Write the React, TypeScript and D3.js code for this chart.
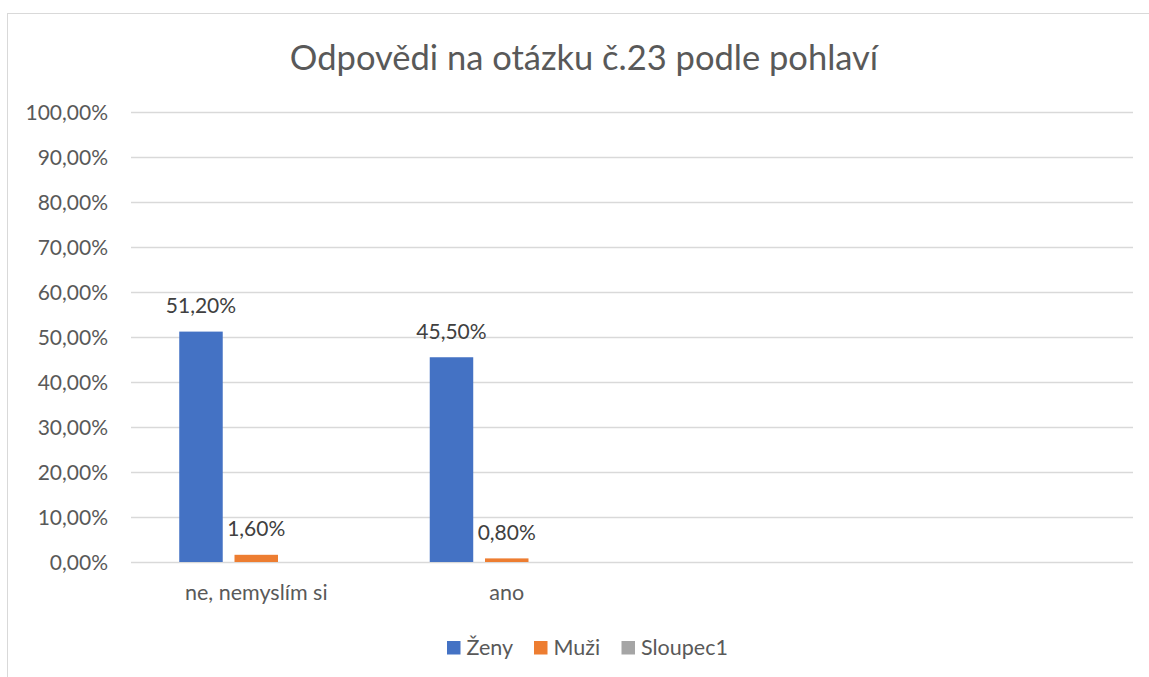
import React, { useEffect, useRef } from 'react';
import * as d3 from 'd3';

const title = 'Odpovědi na otázku č.23 podle pohlaví';
const categories = ['ne, nemyslím si', 'ano', '', ''];
const seriesNames = ['Ženy', 'Muži', 'Sloupec1'];
const zeny = [0.512, 0.455, null, null];
const muzi = [0.016, 0.008, null, null];
const sloupec1 = [null, null, null, null];
const yTicks = [0, 0.1, 0.2, 0.3, 0.4, 0.5, 0.6, 0.7, 0.8, 0.9, 1.0];
const colors = ['#4472C4', '#ED7D31', '#A5A5A5'];

const App = () => {
  const chartRef = useRef<SVGSVGElement | null>(null);

  useEffect(() => {
    if (!chartRef.current) return;
    const width = 1149;
    const height = 677;
    const font = 'Lato, "Open Sans", sans-serif';
    const textColor = '#595959';
    const gridColor = '#d9d9d9';

    const svg = d3.select(chartRef.current);
    svg.selectAll('*').remove();
    svg.attr('width', width).attr('height', height);

    // chart border (runs off the right / bottom of the picture)
    svg.append('rect')
      .attr('x', 7.5).attr('y', 13.5)
      .attr('width', 1200).attr('height', 700)
      .attr('fill', 'white')
      .attr('stroke', gridColor);

    const cz = d3.formatLocale({ decimal: ',', thousands: ' ', grouping: [3], currency: ['', ' Kč'] });
    const pct = cz.format('.2%');

    const x = d3.scaleBand<number>()
      .domain(d3.range(categories.length))
      .range([131, 1133]);

    const xs = d3.scaleBand<string>()
      .domain(seriesNames)
      .range([0, x.bandwidth()])
      .paddingInner(0.213)
      .paddingOuter(0.873);

    const y = d3.scaleLinear().domain([0, 1]).range([562, 112]);

    // gridlines
    svg.append('g')
      .selectAll('line')
      .data(yTicks)
      .enter()
      .append('line')
      .attr('x1', 131).attr('x2', 1133)
      .attr('y1', d => Math.round(y(d)) + 0.5)
      .attr('y2', d => Math.round(y(d)) + 0.5)
      .attr('stroke', gridColor)
      .attr('stroke-width', 1.3);

    // y tick labels
    svg.append('g')
      .selectAll('text')
      .data(yTicks)
      .enter()
      .append('text')
      .attr('x', 108)
      .attr('y', d => y(d) + 7.5)
      .attr('text-anchor', 'end')
      .attr('font-family', font)
      .attr('font-size', 21)
      .attr('fill', textColor)
      .text(d => pct(d));

    const series = [zeny, muzi, sloupec1];

    series.forEach((values, si) => {
      const g = svg.append('g');
      const pts = values
        .map((v, i) => ({ v, i }))
        .filter(d => d.v !== null) as { v: number; i: number }[];

      g.selectAll('rect')
        .data(pts)
        .enter()
        .append('rect')
        .attr('x', d => (x(d.i) as number) + (xs(seriesNames[si]) as number))
        .attr('y', d => y(d.v))
        .attr('width', xs.bandwidth())
        .attr('height', d => y(0) - y(d.v))
        .attr('fill', colors[si]);

      g.selectAll('text')
        .data(pts)
        .enter()
        .append('text')
        .attr('x', d => (x(d.i) as number) + (xs(seriesNames[si]) as number) + xs.bandwidth() / 2)
        .attr('y', d => y(d.v) - 18.5)
        .attr('text-anchor', 'middle')
        .attr('font-family', font)
        .attr('font-size', 21)
        .attr('fill', '#404040')
        .text(d => pct(d.v));
    });

    // category labels
    svg.append('g')
      .selectAll('text')
      .data(categories)
      .enter()
      .append('text')
      .attr('x', (d, i) => (x(i) as number) + x.bandwidth() / 2)
      .attr('y', 600)
      .attr('text-anchor', 'middle')
      .attr('font-family', font)
      .attr('font-size', 21.5)
      .attr('fill', textColor)
      .text(d => d);

    // title
    svg.append('text')
      .attr('x', 584)
      .attr('y', 70)
      .attr('text-anchor', 'middle')
      .attr('font-family', font)
      .attr('font-size', 34.5)
      .attr('fill', textColor)
      .text(title);

    // legend
    const legendX = [447, 534, 621.5];
    const legend = svg.append('g')
      .selectAll('g')
      .data(seriesNames)
      .enter()
      .append('g')
      .attr('transform', (d, i) => `translate(${legendX[i]},641)`);
    legend.append('rect')
      .attr('width', 13.5).attr('height', 13.5)
      .attr('fill', (d, i) => colors[i]);
    legend.append('text')
      .attr('x', 19.5)
      .attr('y', 13.5)
      .attr('font-family', font)
      .attr('font-size', 21.5)
      .attr('fill', textColor)
      .text(d => d);
  }, []);

  return (
    <div style={{ position: 'absolute', left: 0, top: 0, background: 'white' }}>
      <svg ref={chartRef} style={{ display: 'block' }}></svg>
    </div>
  );
};

export default App;
